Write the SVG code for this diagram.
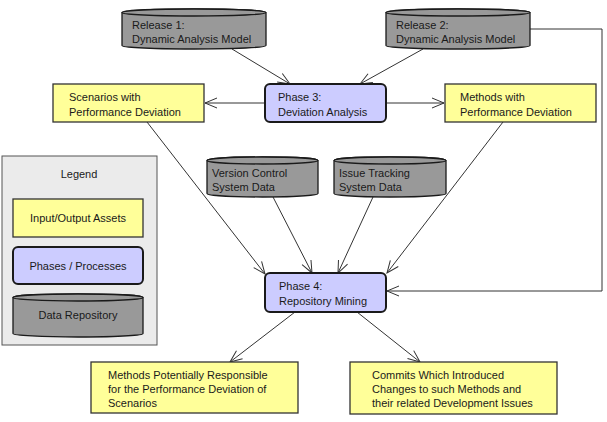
<svg xmlns="http://www.w3.org/2000/svg" width="607" height="422" viewBox="0 0 607 422">
<defs>
<style>
text{font-family:"Liberation Sans",Arial,sans-serif;font-size:11px;fill:#1a1a1a}
.io{fill:#ffff99;stroke:#333;stroke-width:1.3}
.ph{fill:#ccccff;stroke:#1a1a1a;stroke-width:2}
.db{fill:#999999;stroke:#1a1a1a;stroke-width:1.3}
.ln{fill:none;stroke:#333;stroke-width:1;marker-end:url(#ah)}
.ln2{fill:none;stroke:#333;stroke-width:1}
</style>
<marker id="ah" markerWidth="14" markerHeight="12" refX="13" refY="6" orient="auto" markerUnits="userSpaceOnUse">
<path d="M1,1 L13,6 L1,11" fill="none" stroke="#333" stroke-width="1"/>
</marker>
</defs>
<rect width="607" height="422" fill="#fff"/>
<g id="connectors">
<line class="ln" x1="232" y1="49" x2="290" y2="84"/>
<line class="ln" x1="423" y1="49" x2="360" y2="84"/>
<line class="ln" x1="265" y1="103" x2="205" y2="103"/>
<line class="ln" x1="386" y1="103" x2="444" y2="103"/>
<line class="ln" x1="147" y1="122" x2="265" y2="274"/>
<line class="ln" x1="273" y1="197" x2="312" y2="273"/>
<line class="ln" x1="373" y1="197" x2="338" y2="273"/>
<line class="ln" x1="503" y1="122" x2="387" y2="273"/>
<polyline class="ln" points="530,29 602,29 602,291 387,291"/>
<line class="ln" x1="295" y1="312" x2="230" y2="362"/>
<line class="ln" x1="357" y1="312" x2="420" y2="362"/>
</g>
<g id="release1">
<path class="db" d="M122,12.5 A72,3.5 0 0 1 266,12.5 V45.5 A72,3.5 0 0 1 122,45.5 Z"/>
<ellipse class="db" cx="194" cy="12.5" rx="72" ry="3.5"/>
<text x="132" y="29">Release 1:</text>
<text x="132" y="43">Dynamic Analysis Model</text>
</g>
<g id="release2">
<path class="db" d="M386,12.5 A72,3.5 0 0 1 530,12.5 V45.5 A72,3.5 0 0 1 386,45.5 Z"/>
<ellipse class="db" cx="458" cy="12.5" rx="72" ry="3.5"/>
<text x="396" y="29">Release 2:</text>
<text x="396" y="43">Dynamic Analysis Model</text>
</g>
<g id="scenarios">
<rect class="io" x="53" y="84" width="151" height="38"/>
<text x="69" y="101">Scenarios with</text>
<text x="69" y="116">Performance Deviation</text>
</g>
<g id="phase3">
<rect class="ph" x="265" y="84" width="121" height="38" rx="5"/>
<text x="278" y="101">Phase 3:</text>
<text x="278" y="116">Deviation Analysis</text>
</g>
<g id="methods">
<rect class="io" x="445" y="84" width="151" height="38"/>
<text x="460" y="101">Methods with</text>
<text x="460" y="116">Performance Deviation</text>
</g>
<g id="legend">
<rect x="2" y="156" width="155" height="189" fill="#ebebeb" stroke="#555" stroke-width="1"/>
<text x="79" y="178" text-anchor="middle">Legend</text>
<rect class="io" x="13" y="199" width="130" height="38"/>
<text x="78" y="222" text-anchor="middle">Input/Output Assets</text>
<rect class="ph" x="13" y="247" width="130" height="37" rx="5"/>
<text x="78" y="270" text-anchor="middle">Phases / Processes</text>
<path class="db" d="M13,297.5 A65,3.5 0 0 1 143,297.5 V333.5 A65,3.5 0 0 1 13,333.5 Z"/>
<ellipse class="db" cx="78" cy="297.5" rx="65" ry="3.5"/>
<text x="78" y="319" text-anchor="middle">Data Repository</text>
</g>
<g id="vcs">
<path class="db" d="M207,160.5 A55.5,3.5 0 0 1 318,160.5 V193.5 A55.5,3.5 0 0 1 207,193.5 Z"/>
<ellipse class="db" cx="262.5" cy="160.5" rx="55.5" ry="3.5"/>
<text x="212" y="177">Version Control</text>
<text x="212" y="191">System Data</text>
</g>
<g id="its">
<path class="db" d="M334,160.5 A56,3.5 0 0 1 446,160.5 V193.5 A56,3.5 0 0 1 334,193.5 Z"/>
<ellipse class="db" cx="390" cy="160.5" rx="56" ry="3.5"/>
<text x="339" y="177">Issue Tracking</text>
<text x="339" y="191">System Data</text>
</g>
<g id="phase4">
<rect class="ph" x="265" y="273" width="121" height="39" rx="5"/>
<text x="279" y="290">Phase 4:</text>
<text x="279" y="305">Repository Mining</text>
</g>
<g id="out1">
<rect class="io" x="91" y="362" width="207" height="51"/>
<text x="108" y="379">Methods Potentially Responsible</text>
<text x="108" y="393">for the Performance Deviation of</text>
<text x="108" y="407">Scenarios</text>
</g>
<g id="out2">
<rect class="io" x="350" y="362" width="207" height="52"/>
<text x="372" y="379">Commits Which Introduced</text>
<text x="372" y="393">Changes to such Methods and</text>
<text x="372" y="407">their related Development Issues</text>
</g>
</svg>
